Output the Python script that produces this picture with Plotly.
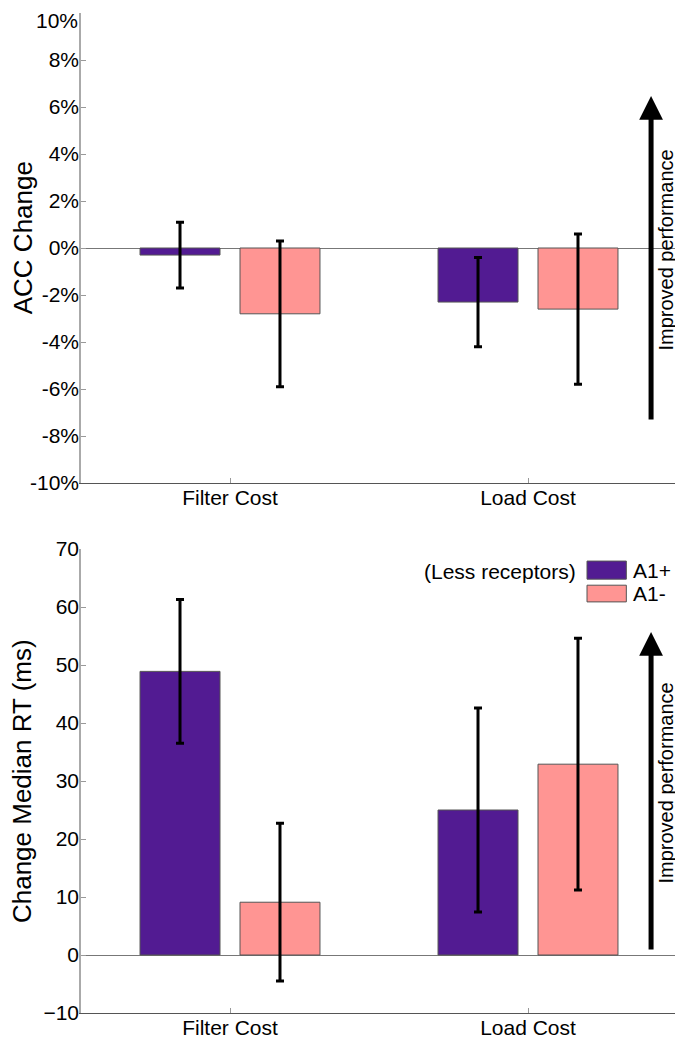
import plotly.graph_objects as go
from plotly.subplots import make_subplots

# data
categories = ["Filter Cost", "Load Cost"]
groups = ["A1+", "A1-"]

acc_a1_plus = [-0.3, -2.3]
acc_a1_plus_err = [1.4, 1.9]
acc_a1_minus = [-2.8, -2.6]
acc_a1_minus_err = [3.1, 3.2]

rt_a1_plus = [48.9, 25.0]
rt_a1_plus_err = [12.4, 17.6]
rt_a1_minus = [9.1, 32.9]
rt_a1_minus_err = [13.6, 21.7]

acc_ticks = [-10, -8, -6, -4, -2, 0, 2, 4, 6, 8, 10]
acc_ticklabels = [f"{t}%" for t in acc_ticks]
rt_ticks = [-10, 0, 10, 20, 30, 40, 50, 60, 70]

# "Improved performance" arrows (tail, tip) in y units
acc_arrow = (-7.36, 6.47)
rt_arrow = (0.7, 55.7)

colors = {"A1+": "#521b92", "A1-": "#ff9593"}
FONT = "Liberation Sans, Arial, Helvetica, sans-serif"

fig = make_subplots(rows=2, cols=1, vertical_spacing=0.066)

panels = [
    (1, [acc_a1_plus, acc_a1_minus], [acc_a1_plus_err, acc_a1_minus_err]),
    (2, [rt_a1_plus, rt_a1_minus], [rt_a1_plus_err, rt_a1_minus_err]),
]
for row, vals, errs in panels:
    for g, v, e in zip(groups, vals, errs):
        fig.add_trace(
            go.Bar(
                x=categories, y=v, name=g,
                marker=dict(color=colors[g], line=dict(color="#555555", width=1)),
                error_y=dict(type="data", array=e, visible=True,
                             color="black", thickness=3, width=4),
                showlegend=False,
            ),
            row=row, col=1,
        )

# the page puts the plot 8px in from the corner, margins make up for it
fig.update_layout(
    width=683, height=1049,
    margin=dict(l=73, r=14, t=5, b=44, autoexpand=False),
    barmode="group", bargap=0.329, bargroupgap=0.2,
    plot_bgcolor="white", paper_bgcolor="white",
    font=dict(family=FONT, size=21, color="black"),
)

fig.update_layout(
    yaxis=dict(domain=[0.53, 1.0]),
    yaxis2=dict(domain=[0.0, 0.464]),
)

fig.update_xaxes(
    range=[-0.5, 1.5], showline=True, linecolor="#555555", linewidth=1,
    ticks="inside", ticklen=5, tickcolor="#999999", showgrid=False,
    tickfont=dict(size=21), automargin=False, ticklabelstandoff=-4,
)
fig.update_yaxes(
    showline=True, linecolor="#aaaaaa", linewidth=1.5,
    ticks="inside", ticklen=5, tickcolor="#999999", showgrid=False,
    zeroline=True, zerolinecolor="#777777", zerolinewidth=1,
    tickfont=dict(size=21), automargin=False, ticklabelstandoff=-4,
)
# top label "10%" is set a little lower by hand so it stays on the page
fig.update_yaxes(range=[-10, 10], tickvals=acc_ticks,
                 ticktext=acc_ticklabels[:-1] + [""], row=1, col=1)
fig.update_yaxes(range=[-10, 70], tickvals=rt_ticks, row=2, col=1)
fig.add_annotation(
    x=0, y=acc_ticks[-1], xref="paper", yref="y", text=acc_ticklabels[-1],
    showarrow=False, xanchor="right", yanchor="middle", xshift=-1, yshift=-7,
    font=dict(size=21),
)

# y titles
for yr, ypos, title in [("y", 0.522, "ACC Change"),
                        ("y2", 0.499, "Change Median RT (ms)")]:
    fig.add_annotation(
        x=-0.098, y=ypos, xref="paper", yref=f"{yr} domain", text=title,
        showarrow=False, textangle=-90, xanchor="center", yanchor="middle",
        font=dict(size=26),
    )

# arrows + side text
for xr, yr, (tail, tip) in [("x", "y", acc_arrow), ("x2", "y2", rt_arrow)]:
    fig.add_annotation(
        x=1.413, y=tip, ax=1.413, ay=tail, xref=xr, yref=yr,
        axref=xr, ayref=yr, text="", showarrow=True,
        arrowhead=2, arrowsize=0.95, arrowwidth=5, arrowcolor="black",
    )
    fig.add_annotation(
        x=0.981, y=0.496, xref="paper", yref=f"{yr} domain",
        text="Improved performance", showarrow=False, textangle=-90,
        xanchor="center", yanchor="middle", font=dict(size=20),
    )

# legend drawn by hand in the lower panel
legend_rows = [("A1+", 0.935, 0.974), ("A1-", 0.886, 0.922)]
for g, y0, y1 in legend_rows:
    fig.add_shape(
        type="rect", xref="x2 domain", yref="y2 domain",
        x0=0.849, x1=0.915, y0=y0, y1=y1,
        fillcolor=colors[g], line=dict(color="#555555", width=1),
    )
    fig.add_annotation(
        x=0.922, y=(y0 + y1) / 2, xref="x2 domain", yref="y2 domain",
        text=g, showarrow=False, xanchor="left", yanchor="middle",
        font=dict(size=21),
    )
fig.add_annotation(
    x=0.834, y=0.952, xref="x2 domain", yref="y2 domain",
    text="(Less receptors)", showarrow=False, xanchor="right",
    yanchor="middle", font=dict(size=21),
)

fig.write_html("out.html")
